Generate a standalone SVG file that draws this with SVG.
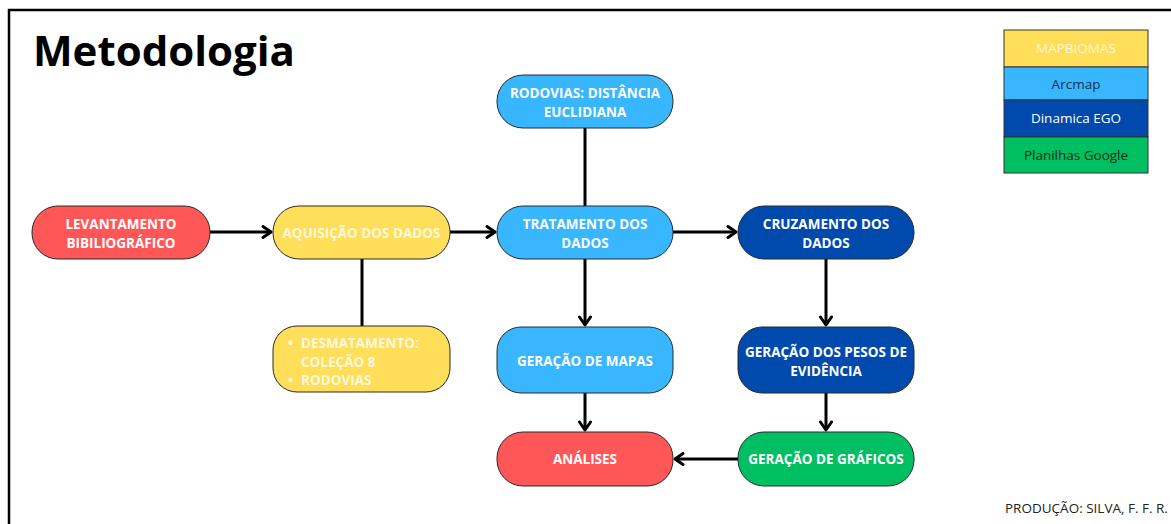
<svg xmlns="http://www.w3.org/2000/svg" width="1171" height="524" viewBox="0 0 1171 524">
<style>
.node{stroke:#2a2a2a;stroke-width:1}
.t{font-family:"Open Sans","Liberation Sans",sans-serif;font-weight:700;font-size:13.5px;fill:#ffffff;text-anchor:middle}
.ty{fill:#fff8dc}
.s{text-anchor:start}
.lg{font-family:"Open Sans","Liberation Sans",sans-serif;font-size:13.5px;text-anchor:middle}
.c{stroke:#000;stroke-width:3;fill:none}
.red{fill:#FF5757}.yel{fill:#FFDE59}.lb{fill:#38B6FF}.db{fill:#004AAD}.gr{fill:#00BF63}
</style>
<defs>
<marker id="arr" viewBox="0 0 12 14" refX="10" refY="7" markerWidth="12" markerHeight="14" markerUnits="userSpaceOnUse" orient="auto">
<path d="M2,1.5 L10,7 L2,12.5" fill="none" stroke="#000" stroke-width="3" stroke-linecap="round" stroke-linejoin="round"/>
</marker>
</defs>
<rect x="0" y="0" width="1171" height="524" fill="#ffffff"/>
<rect x="9" y="10" width="1200" height="600" fill="none" stroke="#000" stroke-width="2.5"/>
<text x="33" y="66" font-family="'Open Sans','Liberation Sans',sans-serif" font-weight="700" font-size="42" fill="#000">Metodologia</text>

<g id="connectors">
<line class="c" x1="210" y1="232" x2="271" y2="232" marker-end="url(#arr)"/>
<line class="c" x1="450" y1="232" x2="495" y2="232" marker-end="url(#arr)"/>
<line class="c" x1="673" y1="232" x2="736" y2="232" marker-end="url(#arr)"/>
<line class="c" x1="585" y1="128" x2="585" y2="206"/>
<line class="c" x1="362" y1="259" x2="362" y2="326"/>
<line class="c" x1="585" y1="259" x2="585" y2="325" marker-end="url(#arr)"/>
<line class="c" x1="585" y1="393" x2="585" y2="430" marker-end="url(#arr)"/>
<line class="c" x1="826" y1="259" x2="826" y2="325" marker-end="url(#arr)"/>
<line class="c" x1="826" y1="393" x2="826" y2="430" marker-end="url(#arr)"/>
<line class="c" x1="738" y1="459" x2="675" y2="459" marker-end="url(#arr)"/>
</g>

<g id="levantamento">
<rect class="node red" x="32" y="206" width="178" height="53" rx="26"/>
<text class="t" x="121" y="229">LEVANTAMENTO</text>
<text class="t" x="121" y="248">BIBILIOGRÁFICO</text>
</g>
<g id="aquisicao">
<rect class="node yel" x="273" y="206" width="177" height="53" rx="26"/>
<text class="t ty" x="361.5" y="238">AQUISIÇÃO DOS DADOS</text>
</g>
<g id="tratamento">
<rect class="node lb" x="497" y="206" width="176" height="53" rx="26"/>
<text class="t" x="585" y="229">TRATAMENTO DOS</text>
<text class="t" x="585" y="248">DADOS</text>
</g>
<g id="cruzamento">
<rect class="node db" x="738" y="206" width="176" height="53" rx="26"/>
<text class="t" x="826" y="229">CRUZAMENTO DOS</text>
<text class="t" x="826" y="248">DADOS</text>
</g>
<g id="rodovias">
<rect class="node lb" x="497" y="75" width="176" height="53" rx="26"/>
<text class="t" x="585" y="98">RODOVIAS: DISTÂNCIA</text>
<text class="t" x="585" y="117">EUCLIDIANA</text>
</g>
<g id="desmatamento">
<rect class="node yel" x="273" y="326" width="177" height="66" rx="24"/>
<text class="t ty s" x="288" y="348">•</text>
<text class="t ty s" x="301" y="348">DESMATAMENTO:</text>
<text class="t ty s" x="301" y="367">COLEÇÃO 8</text>
<text class="t ty s" x="288" y="385">•</text>
<text class="t ty s" x="301" y="385">RODOVIAS</text>
</g>
<g id="mapas">
<rect class="node lb" x="497" y="327" width="176" height="66" rx="24"/>
<text class="t" x="585" y="366">GERAÇÃO DE MAPAS</text>
</g>
<g id="pesos">
<rect class="node db" x="738" y="327" width="176" height="66" rx="24"/>
<text class="t" x="826" y="357">GERAÇÃO DOS PESOS DE</text>
<text class="t" x="826" y="376">EVIDÊNCIA</text>
</g>
<g id="analises">
<rect class="node red" x="497" y="432" width="176" height="54" rx="26"/>
<text class="t" x="585" y="464">ANÁLISES</text>
</g>
<g id="graficos">
<rect class="node gr" x="738" y="432" width="176" height="54" rx="26"/>
<text class="t" x="826" y="464">GERAÇÃO DE GRÁFICOS</text>
</g>

<g id="legenda">
<rect class="yel" x="1004" y="30" width="144" height="37" stroke="#333" stroke-width="1"/>
<rect class="lb" x="1004" y="67" width="144" height="33" stroke="#333" stroke-width="1"/>
<rect class="db" x="1004" y="100" width="144" height="37" stroke="#333" stroke-width="1"/>
<rect class="gr" x="1004" y="137" width="144" height="36" stroke="#333" stroke-width="1"/>
<text class="lg" x="1076" y="53" fill="#fff6d0">MAPBIOMAS</text>
<text class="lg" x="1076" y="89" fill="#1b2f48">Arcmap</text>
<text class="lg" x="1076" y="123" fill="#ffffff">Dinamica EGO</text>
<text class="lg" x="1076" y="160" fill="#0b2a18">Planilhas Google</text>
</g>
<text x="1005" y="513" font-family="'Open Sans','Liberation Sans',sans-serif" font-size="13.5" fill="#222">PRODUÇÃO: SILVA, F. F. R.</text>
</svg>
